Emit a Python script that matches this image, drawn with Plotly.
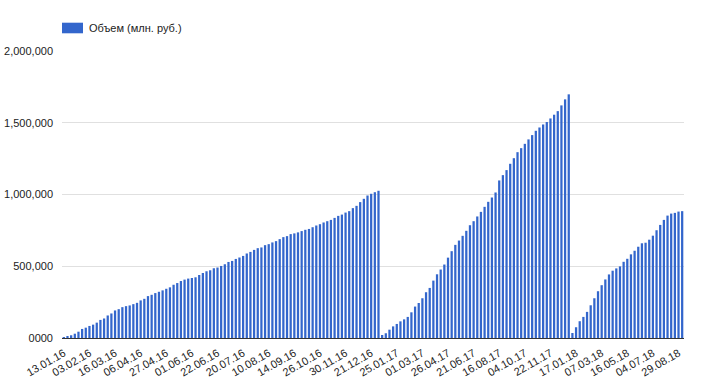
import plotly.graph_objects as go

series_name = "Объем (млн. руб.)"

# Cumulative placement volume per auction (млн. руб.)
volumes_2016 = [
    7000, 14000, 19000, 30000, 44000, 63000, 72000, 84000, 93000, 107000,
    126000, 136000, 157000, 171000, 192000, 201000, 215000, 222000, 227000, 236000,
    245000, 262000, 273000, 292000, 301000, 313000, 322000, 332000, 343000, 353000,
    371000, 383000, 397000, 407000, 414000, 418000, 423000, 439000, 453000, 465000,
    472000, 486000, 491000, 502000, 514000, 530000, 537000, 551000, 561000, 572000,
    589000, 600000, 614000, 626000, 631000, 647000, 654000, 666000, 675000, 689000,
    703000, 710000, 724000, 729000, 736000, 745000, 754000, 760000, 772000, 784000,
    793000, 805000, 814000, 823000, 837000, 851000, 860000, 874000, 884000, 905000,
    921000, 947000, 970000, 993000, 1005000, 1016000, 1026000,
]
volumes_2017 = [
    21000, 33000, 58000, 81000, 98000, 116000, 130000, 147000, 179000, 219000,
    244000, 277000, 319000, 349000, 400000, 444000, 477000, 512000, 560000, 605000,
    649000, 679000, 712000, 747000, 786000, 814000, 847000, 879000, 914000, 949000,
    979000, 1014000, 1098000, 1135000, 1170000, 1214000, 1253000, 1295000, 1323000, 1353000,
    1384000, 1414000, 1444000, 1467000, 1488000, 1505000, 1530000, 1556000, 1581000, 1621000,
    1663000, 1698000,
]
volumes_2018 = [
    35000, 75000, 117000, 147000, 182000, 228000, 277000, 326000, 368000, 408000,
    443000, 469000, 485000, 499000, 531000, 552000, 583000, 608000, 636000, 660000,
    664000, 685000, 713000, 751000, 788000, 823000, 853000, 867000, 872000, 881000,
    884000,
]
volumes = volumes_2016 + volumes_2017 + volumes_2018

# Every 7th auction date is shown on the axis
x_tick_labels = [
    "13.01.16", "03.02.16", "16.03.16", "06.04.16", "27.04.16", "01.06.16",
    "22.06.16", "20.07.16", "10.08.16", "14.09.16", "26.10.16", "30.11.16",
    "21.12.16", "25.01.17", "01.03.17", "26.04.17", "21.06.17", "16.08.17",
    "04.10.17", "22.11.17", "17.01.18", "07.03.18", "16.05.18", "04.07.18",
    "29.08.18",
]
label_step = 7

y_tick_values = [0, 500000, 1000000, 1500000, 2000000]
y_tick_labels = ["0000", "500,000", "1,000,000", "1,500,000", "2,000,000"]

idx = list(range(len(volumes)))
tick_positions = idx[::label_step][:len(x_tick_labels)]

FONT = "Arial, 'Liberation Sans', sans-serif"
BLUE = "#3366cc"
TEXT = "#222222"

fig = go.Figure(
    go.Bar(
        x=idx,
        y=volumes,
        name=series_name,
        marker=dict(color=BLUE, line=dict(width=0)),
        showlegend=False,
    )
)

fig.update_layout(
    width=704,
    height=387,
    margin=dict(l=62, r=20, t=51, b=49, autoexpand=False),
    paper_bgcolor="white",
    plot_bgcolor="white",
    bargap=0.382,
    font=dict(family=FONT, size=11, color=TEXT),
    xaxis=dict(
        range=[-0.5, len(volumes) - 0.5],
        tickmode="array",
        tickvals=tick_positions,
        ticktext=x_tick_labels,
        tickangle=-30,
        showgrid=False,
        zeroline=False,
        showline=False,
        ticks="",
        ticklabelstandoff=6,
        tickfont=dict(family=FONT, size=11, color=TEXT),
    ),
    yaxis=dict(
        range=[0, 2000000],
        tickmode="array",
        tickvals=y_tick_values,
        ticktext=y_tick_labels,
        showgrid=True,
        gridcolor="#e0e0e0",
        gridwidth=1,
        zeroline=True,
        zerolinecolor="#333333",
        zerolinewidth=1,
        showline=False,
        ticks="",
        ticklabelstandoff=8,
        tickfont=dict(family=FONT, size=11, color=TEXT),
    ),
    shapes=[
        dict(
            type="rect", xref="paper", yref="paper",
            x0=0, x1=0.0338, y0=1.0617, y1=1.0986,
            fillcolor=BLUE, line=dict(width=0),
        )
    ],
    annotations=[
        dict(
            xref="paper", yref="paper", x=0.0407, y=1.080,
            xanchor="left", yanchor="middle", showarrow=False,
            text=series_name,
            font=dict(family=FONT, size=11, color=TEXT),
        )
    ],
)

fig.write_html(
    "out.html",
    config={"displayModeBar": False},
    post_script="document.body.style.margin='0';document.body.style.padding='0';",
)
